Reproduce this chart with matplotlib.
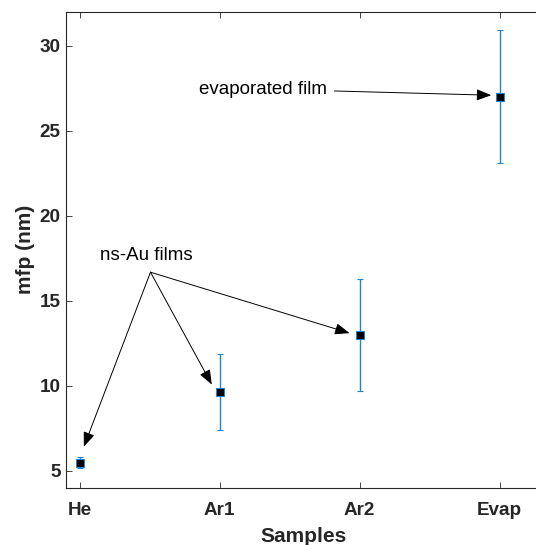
import matplotlib.pyplot as plt
from matplotlib.patches import FancyArrowPatch

# mean free path per sample, with error bars
samples = ['He', 'Ar1', 'Ar2', 'Evap']
mfp = [5.48, 9.65, 13.0, 27.0]
mfp_err = [0.32, 2.25, 3.3, 3.9]

plt.rcParams['font.family'] = ['Liberation Sans', 'DejaVu Sans']
grey = '#262626'
blue = '#2383cf'

fig = plt.figure(figsize=(5.36, 5.45), dpi=100)
ax = fig.add_axes([65.5 / 536, 57 / 545, 476 / 536, 476.5 / 545])

x = list(range(1, len(samples) + 1))
ax.errorbar(x, mfp, yerr=mfp_err, fmt='s', color=blue, ecolor=blue,
            elinewidth=1.0, capsize=2.5, capthick=1.0,
            markersize=5.5, markerfacecolor='black', markeredgecolor=blue,
            markeredgewidth=0.8, zorder=3)

ax.set_xlim(0.9, 4.3)
ax.set_ylim(4, 32)
ax.set_xticks(x)
ax.set_xticklabels(samples)
ax.set_yticks([5, 10, 15, 20, 25, 30])

ax.tick_params(direction='in', length=4, width=0.6, color=grey,
               top=True, right=True, labelsize=13.6, labelcolor=grey)
ax.tick_params(axis='x', pad=10)
ax.tick_params(axis='y', pad=3.5)
for lab in ax.get_xticklabels() + ax.get_yticklabels():
    lab.set_fontweight('bold')
for sp in ax.spines.values():
    sp.set_color(grey)
    sp.set_linewidth(0.8)

ax.set_xlabel('Samples', fontsize=15, fontweight='bold', color=grey, labelpad=6)
ax.set_ylabel('mfp (nm)', fontsize=15, fontweight='bold', color=grey, labelpad=3)


def arrow(start, end):
    ax.add_patch(FancyArrowPatch(start, end, arrowstyle='-|>,head_length=0.9,head_width=0.35',
                                 mutation_scale=10, color='black', lw=0.7,
                                 shrinkA=0, shrinkB=0, zorder=4))


# callouts
ax.text(1.479, 17.66, 'ns-Au films', fontsize=13.5, ha='center', va='center')
origin = (1.507, 16.68)
arrow(origin, (1.031, 6.42))
arrow(origin, (1.945, 10.08))
arrow(origin, (2.929, 13.10))

ax.text(2.769, 27.39, 'evaporated film', fontsize=13.5, ha='right', va='center')
arrow((2.821, 27.33), (3.941, 27.08))

fig.savefig('out.png', dpi=100)
